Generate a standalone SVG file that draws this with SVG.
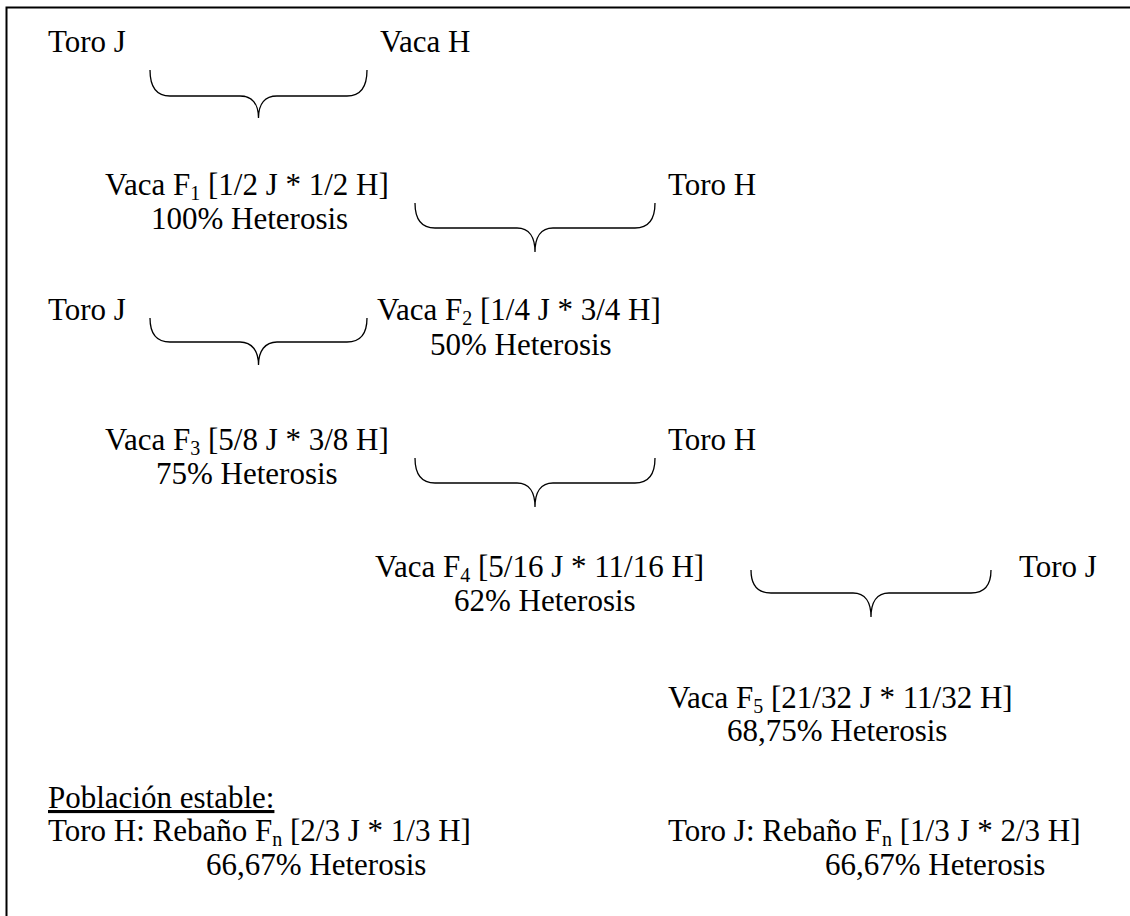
<svg xmlns="http://www.w3.org/2000/svg" width="1130" height="916" viewBox="0 0 1130 916">
<style>
text{font-family:"Liberation Serif","Times New Roman",serif;font-size:31px;fill:#000}
.sub{font-size:20px}
.brace{fill:none;stroke:#000;stroke-width:1.3}
.frame{fill:none;stroke:#000;stroke-width:2}
</style>
<rect width="1130" height="916" fill="#fff"/>
<path class="frame" d="M6.5,920 V7.5 H1135"/>
<g id="connectors">
<path class="brace" d="M150,70 C150,86 156,96 170,96 L240,96 C252,96 258.5,104 258.5,118 C258.5,104 265,96 277,96 L347,96 C361,96 367,86 367,70"/>
<path class="brace" d="M415,203 C415,219 421,228 435,228 L517,228 C529,228 535,237 535,252 C535,237 541,228 553,228 L635,228 C649,228 655,219 655,203"/>
<path class="brace" d="M150,318 C150,333 156,342 170,342 L240,342 C252,342 258.5,351 258.5,365 C258.5,351 265,342 277,342 L347,342 C361,342 367,333 367,318"/>
<path class="brace" d="M415,458 C415,474 421,483 435,483 L517,483 C529,483 535,492 535,507 C535,492 541,483 553,483 L635,483 C649,483 655,474 655,458"/>
<path class="brace" d="M751,570 C751,585 757,593 771,593 L853,593 C865,593 871,602 871,617 C871,602 877,593 889,593 L971,593 C985,593 991,585 991,570"/>
</g>
<g id="toroJ1"><text x="48" y="52">Toro J</text></g>
<g id="vacaH"><text x="380" y="52">Vaca H</text></g>
<g id="vacaF1"><text x="105" y="195">Vaca F<tspan class="sub" dy="5">1</tspan><tspan dy="-5"> [1/2 J * 1/2 H]</tspan></text><text x="151" y="229">100% Heterosis</text></g>
<g id="toroH1"><text x="668" y="195">Toro H</text></g>
<g id="toroJ2"><text x="48" y="320">Toro J</text></g>
<g id="vacaF2"><text x="377" y="320">Vaca F<tspan class="sub" dy="5">2</tspan><tspan dy="-5"> [1/4 J * 3/4 H]</tspan></text><text x="430" y="355">50% Heterosis</text></g>
<g id="vacaF3"><text x="105" y="450">Vaca F<tspan class="sub" dy="5">3</tspan><tspan dy="-5"> [5/8 J * 3/8 H]</tspan></text><text x="156" y="484">75% Heterosis</text></g>
<g id="toroH2"><text x="668" y="450">Toro H</text></g>
<g id="vacaF4"><text x="375" y="577">Vaca F<tspan class="sub" dy="5">4</tspan><tspan dy="-5"> [5/16 J * 11/16 H]</tspan></text><text x="454" y="611">62% Heterosis</text></g>
<g id="toroJ3"><text x="1019" y="577">Toro J</text></g>
<g id="vacaF5"><text x="668" y="708">Vaca F<tspan class="sub" dy="5">5</tspan><tspan dy="-5"> [21/32 J * 11/32 H]</tspan></text><text x="727" y="741">68,75% Heterosis</text></g>
<g id="estable">
<text x="48" y="808" text-decoration="underline">Población estable:</text>
<text x="48" y="841">Toro H: Rebaño F<tspan class="sub" dy="5">n</tspan><tspan dy="-5"> [2/3 J * 1/3 H]</tspan></text>
<text x="206" y="875">66,67% Heterosis</text>
<text x="668" y="841">Toro J: Rebaño F<tspan class="sub" dy="5">n</tspan><tspan dy="-5"> [1/3 J * 2/3 H]</tspan></text>
<text x="825" y="875">66,67% Heterosis</text>
</g>
</svg>
